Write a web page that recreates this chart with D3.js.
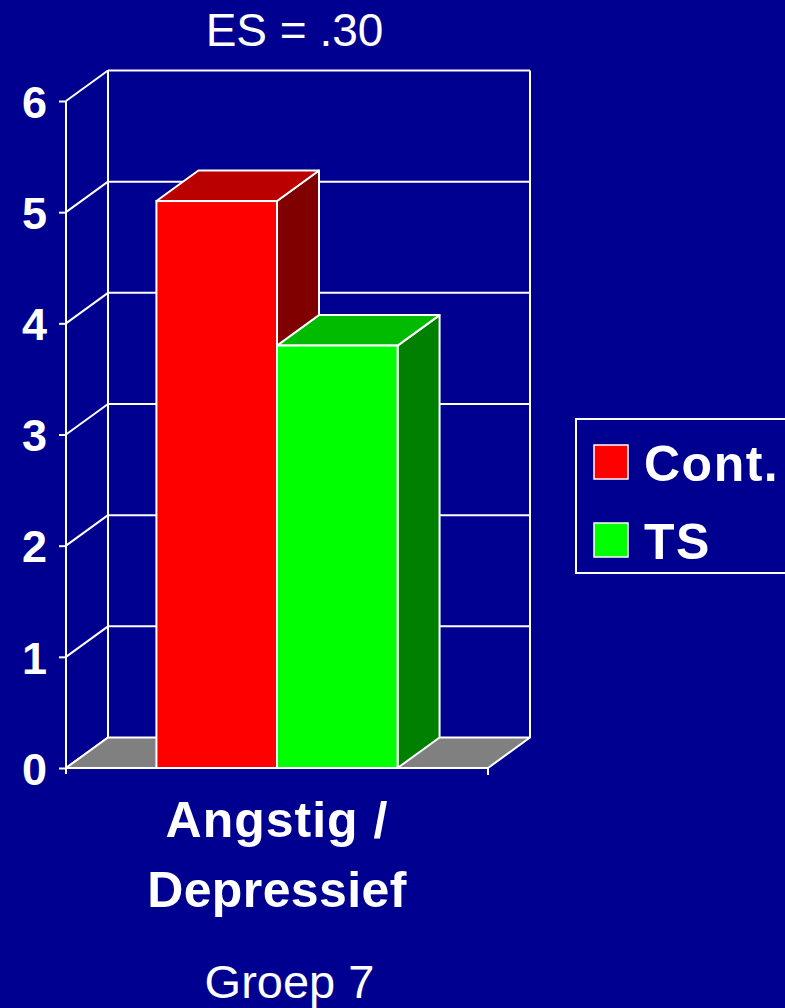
<!DOCTYPE html>
<html><head><meta charset="utf-8">
<script src="https://cdn.jsdelivr.net/npm/d3@7"></script>
<style>html,body{margin:0;padding:0;background:#000090;overflow:hidden}</style>
</head><body>
<svg id="c" width="785" height="1008"></svg>
<script>
const title = "ES = .30";
const categories = ["Angstig / Depressief"];
const categoryLines = [["Angstig /", "Depressief"]];
const series = ["Cont.", "TS"];
const values = [[5.1, 3.8]];
const yTicks = [0, 1, 2, 3, 4, 5, 6];
const xTitle = "Groep 7";
const faceColors = ["#ff0000", "#00ff00"];
const topColors = ["#bb0000", "#00bb00"];
const sideColors = ["#800000", "#008000"];

const svg = d3.select("#c");
const FONT = "'Liberation Sans', Arial, sans-serif";
const bg = "#000090";
svg.append("rect").attr("width",785).attr("height",1008).attr("fill",bg);

const dx = 42, dy = -30.5;
const y = d3.scaleLinear().domain([0,6]).range([768,101]);
const x0 = d3.scaleBand().domain(categories).range([66,488]).padding(0);
const x1 = d3.scaleBand().domain(series).range([0,x0.bandwidth()]).paddingInner(0).paddingOuter(0.75);

const g = svg.append("g");
const W = "#ffffff";
const sw = 2;

// back wall gridlines
yTicks.forEach(t => {
  if (t === 0) return;
  g.append("line").attr("x1",66+dx).attr("x2",488+dx).attr("y1",y(t)+dy).attr("y2",y(t)+dy)
    .attr("stroke",W).attr("stroke-width",sw);
});
// back wall verticals
g.append("line").attr("x1",66+dx).attr("x2",66+dx).attr("y1",y(6)+dy).attr("y2",y(0)+dy).attr("stroke",W).attr("stroke-width",sw);
g.append("line").attr("x1",488+dx).attr("x2",488+dx).attr("y1",y(6)+dy).attr("y2",y(0)+dy).attr("stroke",W).attr("stroke-width",sw);
// side wall diagonals
yTicks.forEach(t => {
  g.append("line").attr("x1",66).attr("y1",y(t)).attr("x2",66+dx).attr("y2",y(t)+dy)
    .attr("stroke",W).attr("stroke-width",sw);
});
// floor
g.append("path").attr("d",`M66,${y(0)}L488,${y(0)}L${488+dx},${y(0)+dy}L${66+dx},${y(0)+dy}Z`)
  .attr("fill","#808080").attr("stroke",W).attr("stroke-width",sw).attr("stroke-linejoin","round");

// front value axis
const yAxis = d3.axisLeft(y).tickValues(yTicks).tickSize(7).tickFormat(d3.format("d"));
const ya = svg.append("g").attr("transform","translate(66,0)").call(yAxis);
ya.select(".domain").attr("stroke",W).attr("stroke-width",sw).attr("d",`M0,${y(6)}V${y(0)+6}`);
ya.selectAll(".tick line").attr("stroke",W).attr("stroke-width",sw);
ya.selectAll(".tick text").attr("fill",W).attr("font-family",FONT).attr("font-weight","bold")
  .attr("font-size",45).attr("x",-19).attr("dy","0.36em");

// bars
values.forEach((row, ci) => {
  row.forEach((v, si) => {
    const bx = x0(categories[ci]) + x1(series[si]);
    const bw = x1.bandwidth();
    const top = y(v), base = y(0);
    const bg2 = g.append("g");
    bg2.append("path").attr("d",`M${bx+bw},${base}L${bx+bw+dx},${base+dy}L${bx+bw+dx},${top+dy}L${bx+bw},${top}Z`)
      .attr("fill",sideColors[si]).attr("stroke",W).attr("stroke-width",sw).attr("stroke-linejoin","round");
    bg2.append("path").attr("d",`M${bx},${top}L${bx+dx},${top+dy}L${bx+bw+dx},${top+dy}L${bx+bw},${top}Z`)
      .attr("fill",topColors[si]).attr("stroke",W).attr("stroke-width",sw).attr("stroke-linejoin","round");
    bg2.append("rect").attr("x",bx).attr("y",top).attr("width",bw).attr("height",base-top)
      .attr("fill",faceColors[si]).attr("stroke",W).attr("stroke-width",sw);
  });
});

// category axis
const xAxis = d3.axisBottom(x0).tickSize(0).tickFormat("");
const xa = svg.append("g").attr("transform",`translate(0,${y(0)})`).call(xAxis);
xa.select(".domain").attr("stroke",W).attr("stroke-width",sw).attr("d","M66,0H488");
xa.append("line").attr("x1",488).attr("x2",488).attr("y1",0).attr("y2",7).attr("stroke",W).attr("stroke-width",sw);
categories.forEach((c, ci) => {
  const cx = x0(c) + x0.bandwidth()/2;
  categoryLines[ci].forEach((ln, li) => {
    svg.append("text").attr("x",cx).attr("y",837 + li*70).attr("text-anchor","middle")
      .attr("fill",W).attr("font-family",FONT).attr("font-weight","bold").attr("font-size",50)
      .attr("letter-spacing", li === 0 ? 1 : 0.4).text(ln);
  });
});

// titles
svg.append("text").attr("x",294.5).attr("y",46).attr("text-anchor","middle").attr("fill",W)
  .attr("font-family",FONT).attr("font-size",46).text(title);
svg.append("text").attr("x",289.5).attr("y",998).attr("text-anchor","middle").attr("fill",W)
  .attr("font-family",FONT).attr("font-size",47).text(xTitle);

// legend
const lg = svg.append("g");
lg.append("rect").attr("x",576).attr("y",419).attr("width",240).attr("height",154)
  .attr("fill","none").attr("stroke",W).attr("stroke-width",2);
series.forEach((s, i) => {
  const yy = 445 + i*78;
  lg.append("rect").attr("x",594).attr("y",yy).attr("width",34).attr("height",34)
    .attr("fill",faceColors[i]).attr("stroke",W).attr("stroke-width",1.5);
  lg.append("text").attr("x",644).attr("y",yy+36).attr("fill",W).attr("font-family",FONT)
    .attr("font-weight","bold").attr("font-size",50).attr("letter-spacing",1.5).text(s);
});
</script>
</body></html>
